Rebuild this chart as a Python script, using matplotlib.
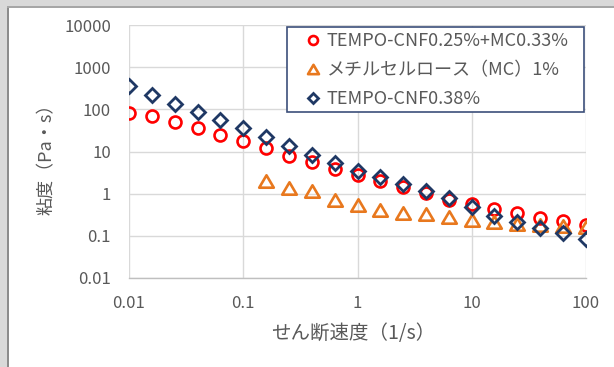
import numpy as np
import matplotlib
matplotlib.use("Agg")
import matplotlib.pyplot as plt
from matplotlib.patches import Rectangle
from matplotlib.path import Path

plt.rcParams['font.family'] = ['Noto Sans CJK JP', 'DejaVu Sans']

# Shear rate (1/s), five points per decade
shear_rate = [0.01, 0.0158, 0.0251, 0.0398, 0.0631, 0.1, 0.158, 0.251, 0.398, 0.631,
              1.0, 1.58, 2.51, 3.98, 6.31, 10.0, 15.8, 25.1, 39.8, 63.1, 100.0]

# Viscosity (Pa·s)
visc_cnf_mc = [83.5, 71, 49.4, 35.6, 25.2, 17.8, 12.4, 7.9, 5.5, 3.8,
               2.7, 2.04, 1.47, 1.03, 0.71, 0.56, 0.43, 0.345, 0.27, 0.226, 0.185]
shear_rate_mc = [0.158, 0.251, 0.398, 0.631, 1.0, 1.58, 2.51, 3.98, 6.31, 10.0,
                 15.8, 25.1, 39.8, 63.1, 100.0]
visc_mc = [2.04, 1.40, 1.16, 0.71, 0.54, 0.41, 0.356, 0.327, 0.286, 0.239,
           0.218, 0.192, 0.182, 0.173, 0.161]
visc_cnf = [359, 219, 134, 87, 56, 36, 22, 13.6, 8.3, 5.3,
            3.5, 2.46, 1.71, 1.16, 0.77, 0.48, 0.30, 0.218, 0.152, 0.116, 0.085]

labels = ['TEMPO-CNF0.25%+MC0.33%', 'メチルセルロース（MC）1%', 'TEMPO-CNF0.38%']
x_ticks = [0.01, 0.1, 1, 10, 100]
x_tick_labels = ['0.01', '0.1', '1', '10', '100']
y_ticks = [0.01, 0.1, 1, 10, 100, 1000, 10000]
y_tick_labels = ['0.01', '0.1', '1', '10', '100', '1000', '10000']

W, H = 614, 367
fig = plt.figure(figsize=(W / 100, H / 100), dpi=100)
fig.patch.set_facecolor('white')

# Grey window border along the top and left edges
fig.patches.append(Rectangle((0, 1 - 6 / H), 1, 6 / H, transform=fig.transFigure,
                             facecolor='#D9D9D9', edgecolor='none', zorder=0))
fig.patches.append(Rectangle((0, 0), 7 / W, 1, transform=fig.transFigure,
                             facecolor='#D9D9D9', edgecolor='none', zorder=0))
fig.patches.append(Rectangle((7 / W, 0), 1.5 / W, 1 - 6 / H, transform=fig.transFigure,
                             facecolor='#8C8C8C', edgecolor='none', zorder=1))
fig.patches.append(Rectangle((7 / W, 1 - 7.5 / H), 1 - 7 / W, 1.5 / H, transform=fig.transFigure,
                             facecolor='#A6A6A6', edgecolor='none', zorder=1))

AX_L, AX_R, AX_T, AX_B = 129, 586, 25, 278
ax = fig.add_axes([AX_L / W, 1 - AX_B / H, (AX_R - AX_L) / W, (AX_B - AX_T) / H])
ax.set_xscale('log')
ax.set_yscale('log')
ax.set_xlim(0.01, 100)
ax.set_ylim(0.01, 10000)

ax.set_xticks(x_ticks)
ax.set_xticklabels(x_tick_labels)
ax.set_yticks(y_ticks)
ax.set_yticklabels(y_tick_labels)
ax.minorticks_off()
ax.tick_params(axis='both', length=0, labelsize=12, labelcolor='#595959')
ax.tick_params(axis='x', pad=12)
ax.tick_params(axis='y', pad=13)

ax.grid(True, which='major', color='#D9D9D9', linewidth=1.0)
for side in ['top', 'right', 'left']:
    ax.spines[side].set_visible(False)
ax.spines['bottom'].set_color('#BFBFBF')
ax.spines['bottom'].set_linewidth(1.0)
ax.set_axisbelow(True)

tri = Path([(0, 0.85), (-1, -0.85), (1, -0.85), (0, 0.85)],
           [Path.MOVETO, Path.LINETO, Path.LINETO, Path.CLOSEPOLY])
ax.plot(shear_rate, visc_cnf_mc, linestyle='none', marker='o', markersize=8.6,
        markerfacecolor='none', markeredgecolor='#FF0000', markeredgewidth=1.9,
        label=labels[0], zorder=3)
ax.plot(shear_rate_mc, visc_mc, linestyle='none', marker=tri, markersize=10.5,
        markerfacecolor='none', markeredgecolor='#E8781E', markeredgewidth=1.9,
        label=labels[1], zorder=4)
ax.plot(shear_rate, visc_cnf, linestyle='none', marker='D', markersize=7.0,
        markerfacecolor='none', markeredgecolor='#1F3864', markeredgewidth=2.0,
        label=labels[2], zorder=5)

# Legend box drawn as its own rectangle, entries placed inside it
def ax_frac(px, py):
    return (px - AX_L) / (AX_R - AX_L), (AX_B - py) / (AX_B - AX_T)

bx0, by0 = ax_frac(287, 112)
bx1, by1 = ax_frac(584, 27)
ax.add_patch(Rectangle((bx0, by0), bx1 - bx0, by1 - by0, transform=ax.transAxes,
                       facecolor='white', edgecolor='#3C4F7A', linewidth=1.2,
                       zorder=6, clip_on=False))
leg = ax.legend(loc='upper left', bbox_to_anchor=ax_frac(306, 32),
                frameon=False, fontsize=13, markerscale=0.75,
                handlelength=0.8, handletextpad=0.35, labelspacing=0.62,
                borderpad=0, borderaxespad=0)
leg.set_zorder(7)
for t in leg.get_texts():
    t.set_color('#595959')

fig.text(47 / W, 1 - 155 / H, '粘度（Pa・s）', rotation=90, ha='center', va='center',
         fontsize=13, color='#595959')
fig.text(353 / W, 1 - 333 / H, 'せん断速度（1/s）', ha='center', va='center',
         fontsize=14, color='#595959')

fig.savefig('out.png', dpi=100)
